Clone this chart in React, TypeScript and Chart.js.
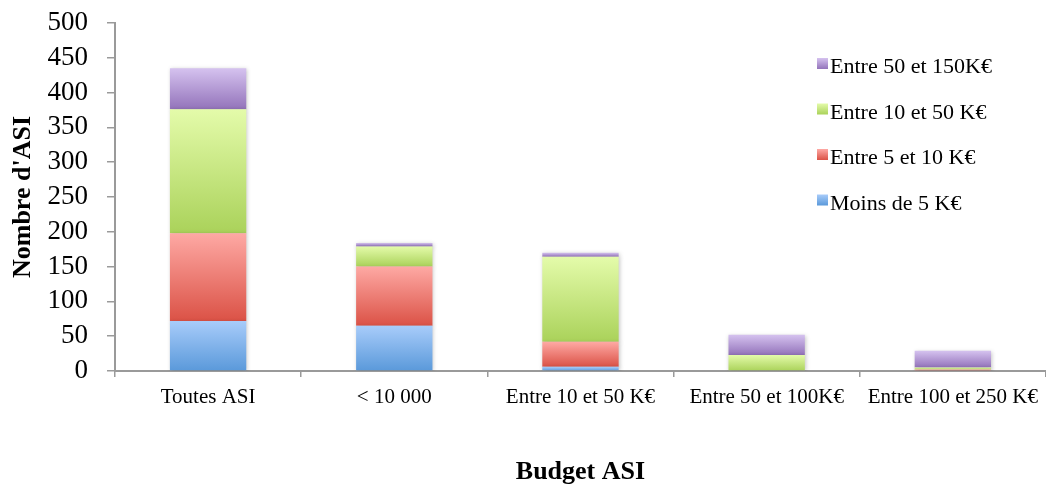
import React, { useEffect, useRef } from "react";
import { Chart, registerables } from "chart.js";

Chart.register(...registerables);

// Budget ranges on the x axis
const categories = [
  "Toutes ASI",
  "< 10 000",
  "Entre 10 et 50 K€",
  "Entre 50 et 100K€",
  "Entre 100 et 250 K€",
];

// Number of ASI per project amount (stacked, bottom to top)
const moinsDe5 = [72, 65, 6, 0, 0];
const entre5et10 = [126, 85, 36, 0, 2];
const entre10et50 = [178, 29, 122, 23, 3];
const entre50et150 = [59, 5, 6, 29, 24];

const seriesLabels = [
  "Moins de 5 K€",
  "Entre 5 et 10 K€",
  "Entre 10 et 50 K€",
  "Entre 50 et 150K€",
];

// Gradient stops (light top, darker bottom) for each series
const seriesColors: [string, string][] = [
  ["#a8ccfa", "#5a99da"],
  ["#fea9a4", "#db5246"],
  ["#e4fbaa", "#aad25a"],
  ["#d5c2ef", "#9373ba"],
];

const yTicks = { min: 0, max: 500, step: 50 };

const SERIF = "'Liberation Serif', 'Times New Roman', serif";

function makeGradient(ctx: any, dsIndex: number) {
  const chart = ctx.chart;
  const [c0, c1] = seriesColors[dsIndex];
  const y = chart.scales?.y;
  if (!chart.chartArea || !y || ctx.type !== "data") return c1;
  const j = ctx.dataIndex;
  let base = 0;
  for (let k = 0; k < dsIndex; k++) base += chart.data.datasets[k].data[j] as number;
  const top = base + (chart.data.datasets[dsIndex].data[j] as number);
  const yTop = y.getPixelForValue(top);
  const yBot = y.getPixelForValue(base);
  if (!(yBot - yTop > 0)) return c1;
  const g = chart.ctx.createLinearGradient(0, yTop, 0, yBot);
  g.addColorStop(0, c0);
  g.addColorStop(1, c1);
  return g;
}

// Soft shadow around the bars
const barShadow = {
  id: "barShadow",
  beforeDatasetsDraw(chart: any) {
    const c = chart.ctx;
    c.save();
    c.shadowColor = "rgba(0,0,0,0.22)";
    c.shadowBlur = 4;
    c.shadowOffsetX = 1;
    c.shadowOffsetY = 1;
  },
  afterDatasetsDraw(chart: any) {
    chart.ctx.restore();
  },
};

// Legend column in the top right corner, last series first
const cornerLegend = {
  id: "cornerLegend",
  afterDraw(chart: any) {
    const c = chart.ctx;
    const x = 817;
    const firstTop = 58;
    const rowGap = 45.5;
    const box = 11;
    c.save();
    c.font = `22px ${SERIF}`;
    c.fillStyle = "#000";
    c.textBaseline = "alphabetic";
    c.textAlign = "left";
    const order = [3, 2, 1, 0];
    order.forEach((ds, row) => {
      const top = firstTop + row * rowGap;
      const g = c.createLinearGradient(0, top, 0, top + box);
      g.addColorStop(0, seriesColors[ds][0]);
      g.addColorStop(1, seriesColors[ds][1]);
      c.fillStyle = g;
      c.fillRect(x, top, box, box);
      c.fillStyle = "#000";
      c.fillText(seriesLabels[ds], x + 13, top + 15);
    });
    c.restore();
  },
};

export default function App() {
  const ref = useRef<HTMLCanvasElement | null>(null);

  useEffect(() => {
    document.body.style.margin = "0";
    const canvas = ref.current;
    if (!canvas) return;
    const data = [moinsDe5, entre5et10, entre10et50, entre50et150];
    const chart = new Chart(canvas, {
      type: "bar",
      data: {
        labels: categories,
        datasets: data.map((values, i) => ({
          label: seriesLabels[i],
          data: values,
          backgroundColor: (ctx: any) => makeGradient(ctx, i),
          borderWidth: 0,
          barPercentage: 0.41,
          categoryPercentage: 1,
        })),
      },
      options: {
        responsive: false,
        animation: false,
        layout: { padding: { top: 23, right: 0, bottom: 0, left: 0 } },
        plugins: {
          legend: { display: false },
          tooltip: { enabled: false },
        },
        scales: {
          x: {
            stacked: true,
            offset: true,
            grid: {
              offset: true,
              drawOnChartArea: false,
              drawTicks: true,
              tickLength: 6,
              color: "#9a9a9a",
              lineWidth: 1.5,
            },
            border: { display: true, color: "#9a9a9a", width: 2 },
            ticks: {
              color: "#000",
              font: { family: SERIF, size: 21 },
              padding: 8,
              maxRotation: 0,
              autoSkip: false,
            },
            title: {
              display: true,
              text: "Budget ASI",
              color: "#000",
              font: { family: SERIF, size: 26, weight: "bold", lineHeight: 1 },
              padding: { top: 0, bottom: 0 },
            },
            afterFit(scale: any) {
              scale.height = 114;
            },
          },
          y: {
            stacked: true,
            min: yTicks.min,
            max: yTicks.max,
            grid: {
              drawOnChartArea: false,
              drawTicks: true,
              tickLength: 8,
              color: "#9a9a9a",
              lineWidth: 1.5,
            },
            border: { display: true, color: "#9a9a9a", width: 2 },
            ticks: {
              stepSize: yTicks.step,
              autoSkip: false,
              color: "#000",
              font: { family: SERIF, size: 27, lineHeight: 1 },
              padding: 19,
            },
            title: {
              display: true,
              text: "Nombre d'ASI",
              color: "#000",
              font: { family: SERIF, size: 26, weight: "bold", lineHeight: 1 },
              padding: { top: 10, bottom: 0 },
            },
            afterFit(scale: any) {
              scale.width = 115;
              scale.paddingTop = 0;
              scale.paddingBottom = 0;
            },
          },
        },
      },
      plugins: [barShadow, cornerLegend],
    });
    return () => chart.destroy();
  }, []);

  return (
    <div style={{ position: "absolute", left: 0, top: 0, width: 1046, height: 485, background: "#fff" }}>
      <canvas ref={ref} width={1046} height={485} style={{ display: "block" }} />
    </div>
  );
}
